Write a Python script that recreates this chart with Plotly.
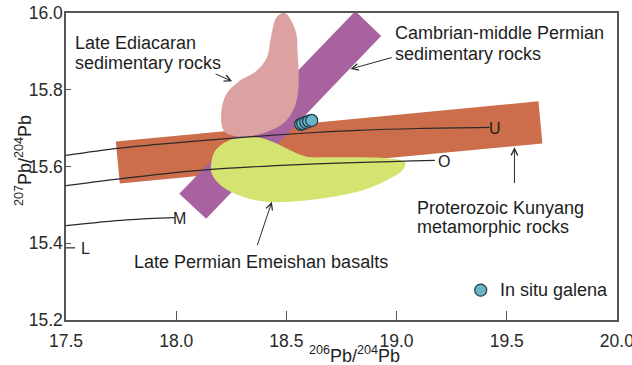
import plotly.graph_objects as go

# ---- data ----
kunyang_x = [17.726, 19.644, 19.662, 17.744]
kunyang_y = [15.665, 15.770, 15.660, 15.556]

cambrian_x = [18.813, 18.930, 18.136, 18.014]
cambrian_y = [16.005, 15.940, 15.464, 15.529]

ediacaran_x = [18.493, 18.542, 18.551, 18.556, 18.542, 18.497, 18.407, 18.285, 18.218,
               18.204, 18.227, 18.285, 18.362, 18.412, 18.430, 18.457]
ediacaran_y = [16.000, 15.953, 15.893, 15.822, 15.762, 15.718, 15.689, 15.678, 15.692,
               15.736, 15.788, 15.822, 15.848, 15.885, 15.937, 15.990]

emeishan_x = [18.159, 18.181, 18.254, 18.362, 18.434, 18.511, 18.588, 18.691, 18.813, 18.962,
              19.039, 19.030, 18.962, 18.858, 18.691, 18.511, 18.407, 18.299, 18.208, 18.163]
emeishan_y = [15.610, 15.644, 15.671, 15.676, 15.665, 15.644, 15.626, 15.624, 15.624, 15.621,
              15.611, 15.592, 15.566, 15.540, 15.519, 15.508, 15.508, 15.522, 15.548, 15.579]

curve_u_x = [17.500, 17.744, 18.060, 18.330, 18.556, 18.827, 19.098, 19.422]
curve_u_y = [15.629, 15.648, 15.665, 15.677, 15.686, 15.694, 15.699, 15.702]
curve_o_x = [17.500, 17.789, 18.105, 18.556, 19.174]
curve_o_y = [15.550, 15.571, 15.590, 15.605, 15.616]
curve_m_x = [17.500, 17.775, 17.992]
curve_m_y = [15.446, 15.461, 15.467]
curve_l_x = [17.500, 17.541]
curve_l_y = [15.388, 15.388]

galena_x = [18.565, 18.574, 18.588, 18.601, 18.615]
galena_y = [15.710, 15.712, 15.715, 15.718, 15.720]

x_ticks = [17.5, 18.0, 18.5, 19.0, 19.5, 20.0]
y_ticks = [15.2, 15.4, 15.6, 15.8, 16.0]

FONT = "Liberation Sans, Arial, sans-serif"
TXT = "#1e1e1e"

fig = go.Figure()

def closed(a):
    return list(a) + [a[0]]

fig.add_trace(go.Scatter(x=closed(kunyang_x), y=closed(kunyang_y), fill="toself",
                         fillcolor="#CC6E4B", mode="lines", line=dict(width=0),
                         hoverinfo="skip", showlegend=False))
fig.add_trace(go.Scatter(x=closed(cambrian_x), y=closed(cambrian_y), fill="toself",
                         fillcolor="#A862A0", mode="lines", line=dict(width=0),
                         hoverinfo="skip", showlegend=False))
fig.add_trace(go.Scatter(x=closed(ediacaran_x), y=closed(ediacaran_y), fill="toself",
                         fillcolor="#DCA2A2", mode="lines",
                         line=dict(width=0, shape="spline", smoothing=1.0),
                         hoverinfo="skip", showlegend=False))
fig.add_trace(go.Scatter(x=closed(emeishan_x), y=closed(emeishan_y), fill="toself",
                         fillcolor="#D5E370", mode="lines",
                         line=dict(width=0, shape="spline", smoothing=1.0),
                         hoverinfo="skip", showlegend=False))

for cx, cy in [(curve_u_x, curve_u_y), (curve_o_x, curve_o_y),
               (curve_m_x, curve_m_y), (curve_l_x, curve_l_y)]:
    fig.add_trace(go.Scatter(x=cx, y=cy, mode="lines",
                             line=dict(color="#2a2a2a", width=1.2, shape="spline"),
                             hoverinfo="skip", showlegend=False))

fig.add_trace(go.Scatter(x=galena_x, y=galena_y, mode="markers",
                         marker=dict(size=12, color="#6AB4C6",
                                     line=dict(color="#1d3a44", width=1.2)),
                         showlegend=False))
# legend symbol
fig.add_trace(go.Scatter(x=[19.382], y=[15.278], mode="markers",
                         marker=dict(size=12, color="#6AB4C6",
                                     line=dict(color="#1d3a44", width=1.2)),
                         showlegend=False))

def label(x, y, text, size=18, xanchor="left"):
    fig.add_annotation(x=x, y=y, xref="x", yref="y", text=text, showarrow=False,
                       xanchor=xanchor, yanchor="middle",
                       font=dict(family=FONT, size=size, color=TXT))

label(17.532, 15.922, "Late Ediacaran")
label(17.532, 15.869, "sedimentary rocks")
label(18.985, 15.948, "Cambrian-middle Permian")
label(18.985, 15.893, "sedimentary rocks")
label(19.084, 15.493, "Proterozoic Kunyang")
label(19.084, 15.443, "metamorphic rocks")
label(17.798, 15.352, "Late Permian Emeishan basalts")
label(19.459, 15.278, "In situ galena")

label(19.445, 15.700, "U", size=16, xanchor="center")
label(19.217, 15.614, "O", size=16, xanchor="center")
label(18.017, 15.465, "M", size=16, xanchor="center")
label(17.590, 15.386, "L", size=16, xanchor="center")

def arrow(x0, y0, x1, y1):
    fig.add_annotation(x=x1, y=y1, ax=x0, ay=y0, xref="x", yref="y", axref="x", ayref="y",
                       text="", showarrow=True, arrowhead=5, arrowsize=1.3,
                       arrowwidth=1, arrowcolor="#2a2a2a")

arrow(18.172, 15.843, 18.254, 15.822)
arrow(18.985, 15.885, 18.791, 15.854)
arrow(19.535, 15.553, 19.535, 15.650)
arrow(18.366, 15.391, 18.434, 15.508)

# axis titles
fig.add_annotation(x=0.5245, y=-0.114, xref="paper", yref="paper",
                   text="<sup>206</sup>Pb/<sup>204</sup>Pb", showarrow=False,
                   xanchor="center", yanchor="middle",
                   font=dict(family=FONT, size=18, color=TXT))
fig.add_annotation(x=-0.076, y=0.518, xref="paper", yref="paper",
                   text="<sup>207</sup>Pb/<sup>204</sup>Pb", showarrow=False, textangle=-90,
                   xanchor="center", yanchor="middle",
                   font=dict(family=FONT, size=18, color=TXT))

fig.update_layout(
    width=632, height=365,
    margin=dict(l=66, r=15, t=13, b=45, autoexpand=False),
    paper_bgcolor="white", plot_bgcolor="white",
    showlegend=False,
    xaxis=dict(range=[17.4999, 20.0005], tickvals=x_ticks, ticktext=[f"{v:.1f}" for v in x_ticks],
               ticks="inside", ticklen=9, tickcolor="#555", tickwidth=1.2,
               showline=True, linecolor="#555", linewidth=1.5, mirror=True,
               showgrid=False, zeroline=False, ticklabelstandoff=4,
               ticklabeloverflow="allow", automargin=False,
               tickfont=dict(family=FONT, size=17.5, color="#2a2a2a")),
    yaxis=dict(range=[15.2, 16.0], tickvals=y_ticks, ticktext=[f"{v:.1f}" for v in y_ticks],
               ticks="inside", ticklen=5, tickcolor="#555", tickwidth=1.2,
               showline=True, linecolor="#555", linewidth=1.5, mirror=True,
               showgrid=False, zeroline=False, ticklabelstandoff=-2,
               ticklabeloverflow="allow", automargin=False,
               tickfont=dict(family=FONT, size=17.5, color="#2a2a2a")),
)

fig.write_html("out.html")
